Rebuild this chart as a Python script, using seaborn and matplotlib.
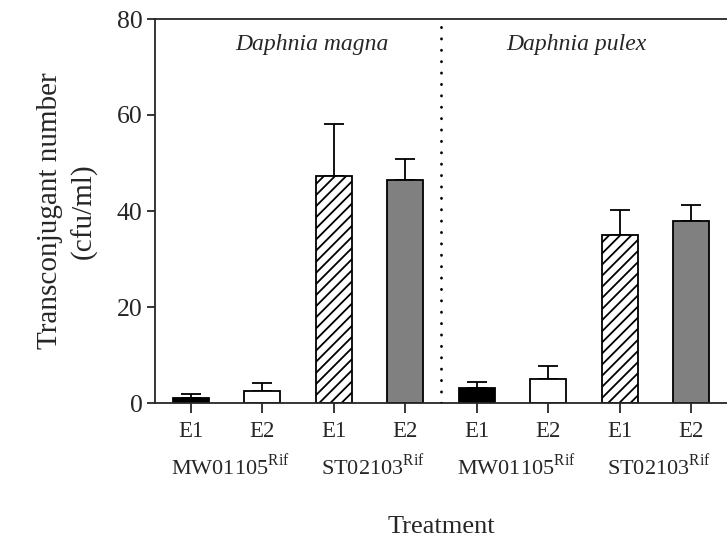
import matplotlib
matplotlib.use("Agg")
import matplotlib.pyplot as plt
import seaborn as sns
import numpy as np
import pandas as pd

# values
bar_ids = ["DM_MW_E1", "DM_MW_E2", "DM_ST_E1", "DM_ST_E2",
           "DP_MW_E1", "DP_MW_E2", "DP_ST_E1", "DP_ST_E2"]
means = [1.1, 2.4, 47.3, 46.5, 3.1, 5.1, 35.1, 37.9]
errors = [0.7, 1.8, 10.8, 4.3, 1.3, 2.7, 5.2, 3.4]
tick_labels = ["E1", "E2", "E1", "E2", "E1", "E2", "E1", "E2"]
strain_labels = ["MW01105$^{\\mathrm{Rif}}$", "ST02103$^{\\mathrm{Rif}}$",
                 "MW01105$^{\\mathrm{Rif}}$", "ST02103$^{\\mathrm{Rif}}$"]
species = ["Daphnia magna", "Daphnia pulex"]
bar_colors = ["black", "white", "white", "#808080",
              "black", "white", "white", "#808080"]

sns.set_style("ticks")
plt.rcParams["font.family"] = ["Liberation Serif", "DejaVu Serif"]
plt.rcParams["mathtext.fontset"] = "custom"
plt.rcParams["mathtext.rm"] = "Liberation Serif"
plt.rcParams["hatch.linewidth"] = 1.3

df = pd.DataFrame({"bar": bar_ids, "value": means})

fig = plt.figure(figsize=(7.27, 5.4), dpi=100)
ax = fig.add_axes([155 / 727, 137 / 540, 572 / 727, 384 / 540])

sns.barplot(data=df, x="bar", y="value", hue="bar", palette=bar_colors,
            order=bar_ids, hue_order=bar_ids, width=0.5, legend=False,
            edgecolor="black", linewidth=1.3, errorbar=None, ax=ax, zorder=2)

for i, p in enumerate(ax.patches):
    if i in (2, 6):
        p.set_hatch("///")

pos = np.arange(len(bar_ids))
ax.errorbar(pos, means, yerr=[np.zeros(len(means)), errors], fmt="none",
            ecolor="black", elinewidth=1.3, capsize=7, capthick=1.3, zorder=1)

# dotted separator between the two species
ax.plot([3.5, 3.5], [0, 80], color="black", lw=2.0,
        linestyle=(0, (0.1, 4)), dash_capstyle="round", zorder=3)

ax.set_xlim(-0.5, 7.5)
ax.set_ylim(0, 80)
ax.set_yticks([0, 20, 40, 60, 80])
ax.set_xticks(pos)
ax.set_xticklabels(tick_labels, fontsize=16.5)
ax.tick_params(axis="y", labelsize=18.5, length=6, width=1.3, pad=3)
ax.tick_params(axis="x", length=7, width=1.3, pad=6)

for s in ["top", "left", "bottom"]:
    ax.spines[s].set_linewidth(1.3)
    ax.spines[s].set_visible(True)
ax.spines["right"].set_visible(False)

ax.set_xlabel("")
ax.set_ylabel("Transconjugant number\n(cfu/ml)", fontsize=21, linespacing=1.35,
              labelpad=14)

trans = ax.get_xaxis_transform()
for k, lab in enumerate(strain_labels):
    ax.text(2 * k + 0.55, -0.167, lab, transform=trans, ha="center",
            va="center", fontsize=16)

ax.text(1.7, 74.6, species[0], style="italic", fontsize=17, ha="center", va="center")
ax.text(5.4, 74.6, species[1], style="italic", fontsize=17, ha="center", va="center")

ax.text(0.5, -0.323, "Treatment", transform=ax.transAxes, ha="center",
        va="center", fontsize=19)

fig.savefig("out.png", dpi=100)
